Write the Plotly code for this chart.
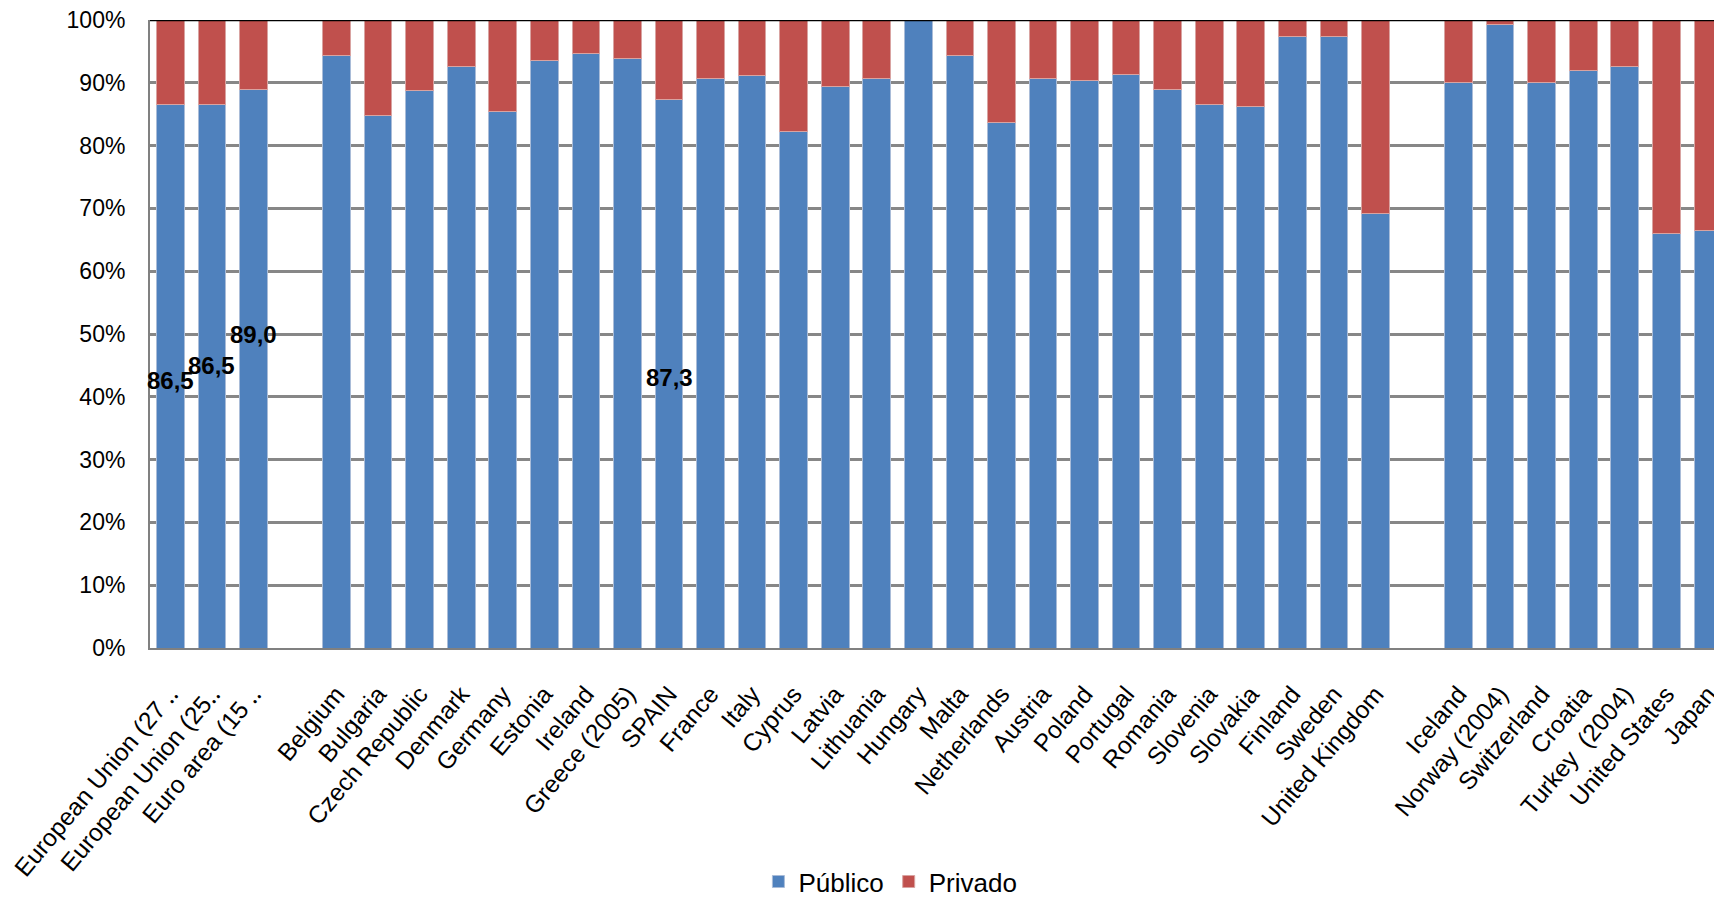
import plotly.graph_objects as go

categories = [
    "European Union (27 ‥", "European Union (25‥", "Euro area (15 ‥", " ",
    "Belgium", "Bulgaria", "Czech Republic", "Denmark", "Germany", "Estonia",
    "Ireland", "Greece (2005)", "SPAIN", "France", "Italy", "Cyprus", "Latvia",
    "Lithuania", "Hungary", "Malta", "Netherlands", "Austria", "Poland",
    "Portugal", "Romania", "Slovenia", "Slovakia", "Finland", "Sweden",
    "United Kingdom", "  ",
    "Iceland", "Norway (2004)", "Switzerland", "Croatia", "Turkey  (2004)",
    "United States", "Japan",
]

publico = [
    86.5, 86.5, 89.0, None,
    94.3, 84.8, 88.7, 92.6, 85.5, 93.6,
    94.6, 93.9, 87.3, 90.7, 91.1, 82.3, 89.4,
    90.7, 99.9, 94.3, 83.7, 90.7, 90.4,
    91.4, 89.0, 86.5, 86.2, 97.4, 97.4,
    69.2, None,
    90.0, 99.3, 90.0, 91.9, 92.6,
    66.0, 66.5,
]

privado = [None if v is None else round(100 - v, 1) for v in publico]

label_categories = ["European Union (27 ‥", "European Union (25‥", "Euro area (15 ‥", "SPAIN"]
label_texts = ["86,5", "86,5", "89,0", "87,3"]
label_y = [42.6, 45.0, 50.0, 43.1]

BLUE = "#4F81BD"
RED = "#C0504D"
FONT = "Liberation Sans, Arial, sans-serif"

fig = go.Figure()
fig.add_trace(go.Bar(
    x=categories, y=publico, name="Público",
    marker=dict(color=BLUE, line=dict(color="#A9BCD8", width=1)),
))
fig.add_trace(go.Bar(
    x=categories, y=privado, name="Privado",
    marker=dict(color=RED, line=dict(color="#D9A3A1", width=1)),
))

for c, t, yv in zip(label_categories, label_texts, label_y):
    fig.add_annotation(x=c, y=yv, text="<b>%s</b>" % t, showarrow=False,
                       font=dict(family=FONT, size=24, color="black"))

fig.add_shape(type="line", xref="paper", yref="y", x0=0, x1=1, y0=100, y1=100,
              line=dict(color="black", width=2.5))

# page body has an 8px margin: size the figure so it fits the 1722x898 window
fig.update_layout(
    barmode="stack",
    bargap=0.335,
    width=1714, height=890,
    margin=dict(l=142, r=0, t=12, b=250, autoexpand=False),
    paper_bgcolor="white", plot_bgcolor="white",
    font=dict(family=FONT, size=25, color="black"),
    legend=dict(orientation="h", x=0.471, xanchor="center",
                yref="paper", y=-0.372, yanchor="middle",
                font=dict(family=FONT, size=26, color="black"),
                itemwidth=30, traceorder="normal"),
    showlegend=True,
)
fig.update_xaxes(
    type="category", range=[-0.49, 37.34], tickangle=-50, automargin=False,
    showline=True, linecolor="#808080", linewidth=2,
    showgrid=False, ticks="", ticklabelstandoff=20, ticklabeloverflow="allow",
    tickfont=dict(family=FONT, size=24.5, color="black"),
)
fig.update_yaxes(
    range=[0, 100], dtick=10, ticksuffix="%", automargin=False,
    showline=True, linecolor="#808080", linewidth=2,
    showgrid=True, gridcolor="#878787", gridwidth=2.5,
    ticks="", ticklabelstandoff=18, zeroline=False, ticklabeloverflow="allow",
    tickfont=dict(family=FONT, size=23, color="black"),
)

fig.write_html("out.html")
